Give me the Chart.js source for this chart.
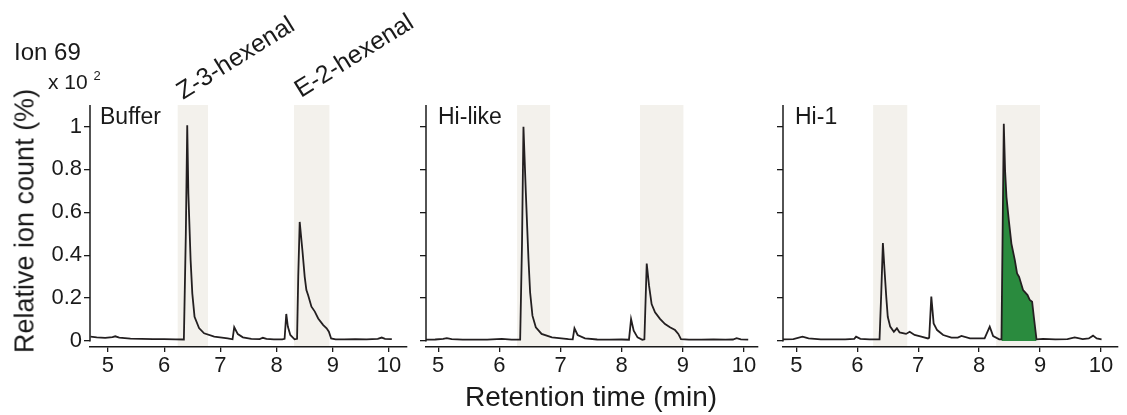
<!DOCTYPE html>
<html>
<head>
<meta charset="utf-8">
<script src="https://cdn.jsdelivr.net/npm/chart.js@4.4.1/dist/chart.umd.min.js"></script>
<style>
  body { margin: 0; background: #fff; width: 1127px; height: 415px; position: relative; overflow: hidden;
         font-family: "Liberation Sans", Arial, sans-serif; color: #1a1a1a; }
  canvas { position: absolute; top: 0; }
  .lbl { position: absolute; white-space: nowrap; line-height: 1; }
  .rot { transform-origin: 0 21px; transform: rotate(-32deg); }
  sup { font-size: 13px; vertical-align: 9px; }
</style>
</head>
<body>
<canvas id="buffer" width="410" height="415" style="left:0px"></canvas>
<canvas id="hilike" width="351" height="415" style="left:410px"></canvas>
<canvas id="hi1" width="356" height="415" style="left:765px"></canvas>

<div class="lbl" style="left:14px;top:40px;font-size:24px">Ion 69</div>
<div class="lbl" style="left:48px;top:69px;font-size:21px">x 10 <sup>2</sup></div>
<div class="lbl rot" style="left:183px;top:79px;font-size:25px">Z-3-hexenal</div>
<div class="lbl rot" style="left:301px;top:77px;font-size:25px">E-2-hexenal</div>
<div class="lbl" style="left:100px;top:105px;font-size:23px">Buffer</div>
<div class="lbl" style="left:438px;top:105px;font-size:23px">Hi-like</div>
<div class="lbl" style="left:795px;top:105px;font-size:23px">Hi-1</div>
<div class="lbl" style="left:25px;top:221px;font-size:27px;transform:translate(-50%,-50%) rotate(-90deg)">Relative ion count (%)</div>
<div class="lbl" style="left:591px;top:397px;font-size:28px;transform:translate(-50%,-50%)">Retention time (min)</div>

<script>
// retention time (min) and relative ion count
const bufferTime = [4.69, 4.8, 4.95, 5.08, 5.13, 5.2, 5.4, 5.6, 5.8, 6.0, 6.2, 6.35, 6.385, 6.41, 6.43, 6.45, 6.47, 6.5, 6.54, 6.62, 6.71, 6.89, 7.13, 7.216, 7.246, 7.31, 7.4, 7.55, 7.7, 7.755, 7.82, 7.95, 8.1, 8.142, 8.172, 8.2, 8.244, 8.32, 8.364, 8.385, 8.411, 8.459, 8.5, 8.53, 8.56, 8.62, 8.68, 8.74, 8.83, 8.89, 8.93, 8.97, 9.05, 9.2, 9.4, 9.6, 9.8, 9.87, 9.93, 10.05];
const bufferIon = [0.02, 0.017, 0.015, 0.018, 0.022, 0.016, 0.011, 0.01, 0.009, 0.009, 0.008, 0.007, 0.5, 1.005, 0.687, 0.532, 0.377, 0.222, 0.113, 0.06, 0.036, 0.02, 0.012, 0.008, 0.064, 0.032, 0.017, 0.01, 0.009, 0.015, 0.01, 0.008, 0.008, 0.01, 0.126, 0.067, 0.028, 0.008, 0.01, 0.3, 0.555, 0.423, 0.299, 0.237, 0.214, 0.16, 0.137, 0.105, 0.074, 0.059, 0.043, 0.012, 0.008, 0.008, 0.009, 0.008, 0.01, 0.016, 0.01, 0.009];

const hiLikeTime = [4.8, 4.95, 5.08, 5.14, 5.22, 5.4, 5.6, 5.8, 6.04, 6.2, 6.34, 6.37, 6.394, 6.433, 6.454, 6.476, 6.503, 6.541, 6.596, 6.69, 6.86, 7.13, 7.2, 7.228, 7.28, 7.4, 7.6, 7.8, 8.0, 8.12, 8.154, 8.197, 8.26, 8.338, 8.372, 8.41, 8.448, 8.49, 8.546, 8.627, 8.71, 8.79, 8.873, 8.927, 8.97, 9.1, 9.3, 9.5, 9.7, 9.82, 9.88, 9.95, 10.07];
const hiLikeIon = [0.006, 0.007, 0.01, 0.013, 0.009, 0.006, 0.006, 0.006, 0.01, 0.006, 0.006, 0.45, 0.998, 0.69, 0.537, 0.381, 0.226, 0.118, 0.064, 0.033, 0.017, 0.009, 0.008, 0.059, 0.028, 0.012, 0.007, 0.006, 0.007, 0.006, 0.102, 0.048, 0.017, 0.006, 0.008, 0.361, 0.258, 0.172, 0.134, 0.103, 0.079, 0.064, 0.051, 0.033, 0.009, 0.006, 0.006, 0.007, 0.006, 0.007, 0.013, 0.008, 0.006];

const hi1Time = [4.78, 4.95, 5.1, 5.2, 5.4, 5.6, 5.8, 5.95, 5.98, 6.05, 6.2, 6.365, 6.393, 6.42, 6.447, 6.475, 6.5, 6.54, 6.6, 6.65, 6.694, 6.8, 6.86, 6.94, 7.05, 7.16, 7.18, 7.215, 7.253, 7.31, 7.41, 7.545, 7.65, 7.71, 7.85, 8.09, 8.174, 8.23, 8.33, 8.367, 8.405, 8.426, 8.449, 8.487, 8.53, 8.586, 8.623, 8.656, 8.722, 8.795, 8.832, 8.87, 8.898, 8.942, 9.05, 9.25, 9.45, 9.57, 9.7, 9.8, 9.87, 9.93, 10.01];
const hi1Ion = [0.008, 0.009, 0.02, 0.012, 0.008, 0.008, 0.008, 0.01, 0.02, 0.01, 0.008, 0.008, 0.222, 0.457, 0.33, 0.207, 0.113, 0.067, 0.043, 0.059, 0.04, 0.033, 0.043, 0.028, 0.02, 0.012, 0.015, 0.207, 0.082, 0.051, 0.028, 0.016, 0.016, 0.024, 0.012, 0.012, 0.067, 0.023, 0.008, 0.008, 1.012, 0.795, 0.671, 0.563, 0.454, 0.377, 0.315, 0.299, 0.237, 0.214, 0.191, 0.183, 0.113, 0.008, 0.01, 0.008, 0.009, 0.017, 0.009, 0.012, 0.025, 0.012, 0.008];

// shaded windows: Z-3-hexenal, E-2-hexenal
const bufferShade = [[6.24, 6.78], [8.31, 8.94]];
const hiLikeShade = [[6.29, 6.83], [8.30, 9.01]];
const hi1Shade = [[6.26, 6.82], [8.28, 9.00]];
// integrated E-2-hexenal peak in Hi-1
const hi1Area = [8.36, 8.95];

const timeTicks = [5, 6, 7, 8, 9, 10];
const timeLabels = ['5', '6', '7', '8', '9', '10'];
const ionTicks = [0, 0.1, 0.2, 0.3, 0.4, 0.5, 0.6, 0.7, 0.8, 0.9, 1];
const ionLabels = ['0', '', '0.2', '', '0.4', '', '0.6', '', '0.8', '', '1'];

const FONT = '"Liberation Sans", Arial, sans-serif';
const INK = '#1a1a1a';

const shadePlugin = {
    id: 'shade',
    beforeDraw(chart, args, opts) {
        const { ctx, chartArea, scales: { x } } = chart;
        ctx.save();
        ctx.fillStyle = '#f3f1ec';
        opts.ranges.forEach(function(r) {
            const x0 = x.getPixelForValue(r[0]);
            const x1 = x.getPixelForValue(r[1]);
            ctx.fillRect(x0, chartArea.top, x1 - x0, chartArea.bottom - chartArea.top);
        });
        ctx.restore();
    },
    afterDraw(chart) {
        // y axis line stops at zero, leaving a gap above the time axis
        const { ctx, chartArea, scales: { y } } = chart;
        ctx.save();
        ctx.strokeStyle = INK;
        ctx.lineWidth = 1.5;
        ctx.beginPath();
        ctx.moveTo(chartArea.left, chartArea.top);
        ctx.lineTo(chartArea.left, y.getPixelForValue(0) + 0.5);
        ctx.stroke();
        ctx.restore();
    }
};

function makeChart(id, times, ions, shade, xMin, xMax, yWidth, showLabels, area) {
    const points = times.map(function(t, i) { return { x: t, y: ions[i] }; });
    const datasets = [{
        data: points,
        borderColor: '#231f20',
        borderWidth: 1.8,
        pointRadius: 0,
        tension: 0,
        fill: false,
        order: 1
    }];
    if (area) {
        datasets.push({
            data: points.filter(function(p) { return p.x >= area[0] && p.x <= area[1]; }),
            borderWidth: 0,
            pointRadius: 0,
            backgroundColor: '#2a8b3e',
            fill: 'origin',
            order: 2
        });
    }
    return new Chart(document.getElementById(id), {
        type: 'line',
        data: { datasets: datasets },
        options: {
            responsive: false,
            animation: false,
            layout: { padding: { top: 105, right: 3, left: 0, bottom: 0 } },
            plugins: {
                legend: { display: false },
                tooltip: { enabled: false },
                shade: { ranges: shade }
            },
            scales: {
                x: {
                    type: 'linear',
                    min: xMin,
                    max: xMax,
                    afterBuildTicks: function(s) { s.ticks = timeTicks.map(function(v) { return { value: v }; }); },
                    afterFit: function(s) { s.height = 68; },
                    grid: { drawOnChartArea: false, drawTicks: true, tickLength: 5, color: INK, lineWidth: 1.3 },
                    border: { display: true, color: INK, width: 1.5 },
                    ticks: {
                        padding: 1,
                        color: INK,
                        font: { family: FONT, size: 22 },
                        maxRotation: 0,
                        callback: function(v, i) { return timeLabels[i]; }
                    }
                },
                y: {
                    type: 'linear',
                    min: -0.028,
                    max: 1.1,
                    afterBuildTicks: function(s) { s.ticks = ionTicks.map(function(v) { return { value: v }; }); },
                    afterFit: function(s) { s.width = yWidth; },
                    grid: { drawOnChartArea: false, drawTicks: true, tickLength: 6, color: INK, lineWidth: 1.3 },
                    border: { display: false },
                    ticks: {
                        padding: 2,
                        color: INK,
                        font: { family: FONT, size: 22 },
                        callback: function(v, i) { return showLabels ? ionLabels[i] : ''; }
                    }
                }
            }
        },
        plugins: [shadePlugin]
    });
}

makeChart('buffer', bufferTime, bufferIon, bufferShade, 4.68, 10.32, 90, true, null);
makeChart('hilike', hiLikeTime, hiLikeIon, hiLikeShade, 4.80, 10.23, 16, false, null);
makeChart('hi1', hi1Time, hi1Ion, hi1Shade, 4.78, 10.28, 18, false, hi1Area);
</script>
</body>
</html>
